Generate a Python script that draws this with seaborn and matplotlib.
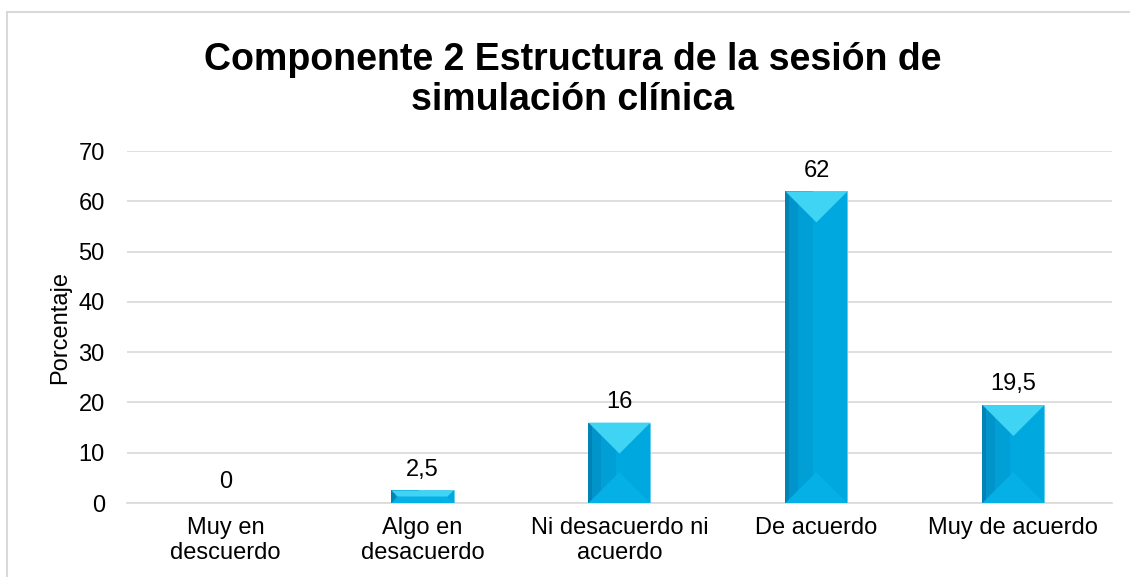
import numpy as np
import pandas as pd
import seaborn as sns
import matplotlib.pyplot as plt
from matplotlib.patches import Polygon, Rectangle

# Data
categorias = ['Muy en\ndescuerdo', 'Algo en\ndesacuerdo', 'Ni desacuerdo ni\nacuerdo', 'De acuerdo', 'Muy de acuerdo']
porcentajes = [0, 2.5, 16, 62, 19.5]
etiquetas = ['0', '2,5', '16', '62', '19,5']

df = pd.DataFrame({'categoria': categorias, 'porcentaje': porcentajes})

sns.set_style('white')
plt.rcParams['font.family'] = ['Liberation Sans', 'DejaVu Sans']
plt.rcParams['text.color'] = 'black'

fig = plt.figure(figsize=(11.3, 5.77), dpi=100)
ax = fig.add_axes([0.1124, 0.1282, 0.8716, 0.6098])

sns.barplot(data=df, x='categoria', y='porcentaje', color='#00a8e0', width=0.315,
            saturation=1, ax=ax, zorder=3)

ax.set_ylim(0, 70)

# bevel look on each bar
for p in list(ax.patches):
    x0 = p.get_x()
    w = p.get_width()
    h = p.get_height()
    p.set_edgecolor('#62cbec')
    p.set_linewidth(0.6)
    if h <= 0:
        continue
    x1 = x0 + w
    px_w = ax.transData.transform((x1, 0))[0] - ax.transData.transform((x0, 0))[0]
    px_per_y = ax.transData.transform((0, 1))[1] - ax.transData.transform((0, 0))[1]
    d_px = min(px_w / 2, h * px_per_y / 2)
    d = d_px / px_per_y           # depth in y units
    dx = d_px / px_w * w          # inset in x units
    # left darker strips (gradient-ish)
    ax.add_patch(Rectangle((x0, 0), w * 0.45, h, facecolor='#009fd6', edgecolor='none', zorder=3.1))
    ax.add_patch(Rectangle((x0, 0), w * 0.2, h, facecolor='#0094ca', edgecolor='none', zorder=3.2))
    ax.add_patch(Rectangle((x0, 0), w * 0.05, h, facecolor='#0082b4', edgecolor='none', zorder=3.25))
    # top bevel
    ax.add_patch(Polygon([(x0, h), (x1, h), (x1 - dx, h - d), (x0 + dx, h - d)], closed=True,
                         facecolor='#3fd4f4', edgecolor='none', zorder=3.3))
    # bottom bevel
    ax.add_patch(Polygon([(x0, 0), (x1, 0), (x1 - dx, d), (x0 + dx, d)], closed=True,
                         facecolor='#05b0e6', edgecolor='none', zorder=3.3))

# value labels
for i, (v, t) in enumerate(zip(porcentajes, etiquetas)):
    ax.annotate(t, (i, v), xytext=(0, 7), textcoords='offset points',
                ha='center', va='bottom', fontsize=17, color='black')

ax.set_yticks(range(0, 71, 10))
ax.grid(axis='y', color='#d9d9d9', linewidth=1.2, zorder=0)
ax.set_axisbelow(True)
for s in ['top', 'right', 'left']:
    ax.spines[s].set_visible(False)
ax.spines['bottom'].set_color('#d9d9d9')
ax.spines['bottom'].set_linewidth(1.2)
ax.tick_params(axis='both', length=0, labelsize=17, colors='black')
ax.tick_params(axis='y', pad=16)
ax.tick_params(axis='x', pad=10)
ax.set_xlabel('')
ax.set_ylabel('Porcentaje', fontsize=17, labelpad=5, color='black')

fig.text(0.507, 0.862, 'Componente 2 Estructura de la sesión de\nsimulación clínica',
         ha='center', va='center', fontsize=27, fontweight='bold', linespacing=1.15)

# chart border (cropped)
fig.add_artist(plt.Line2D([0.0062, 0.0062], [0, 0.979], color='#d9d9d9', linewidth=1.5))
fig.add_artist(plt.Line2D([0.0062, 1.0], [0.979, 0.979], color='#d9d9d9', linewidth=1.5))

fig.savefig('out.png', dpi=100)
